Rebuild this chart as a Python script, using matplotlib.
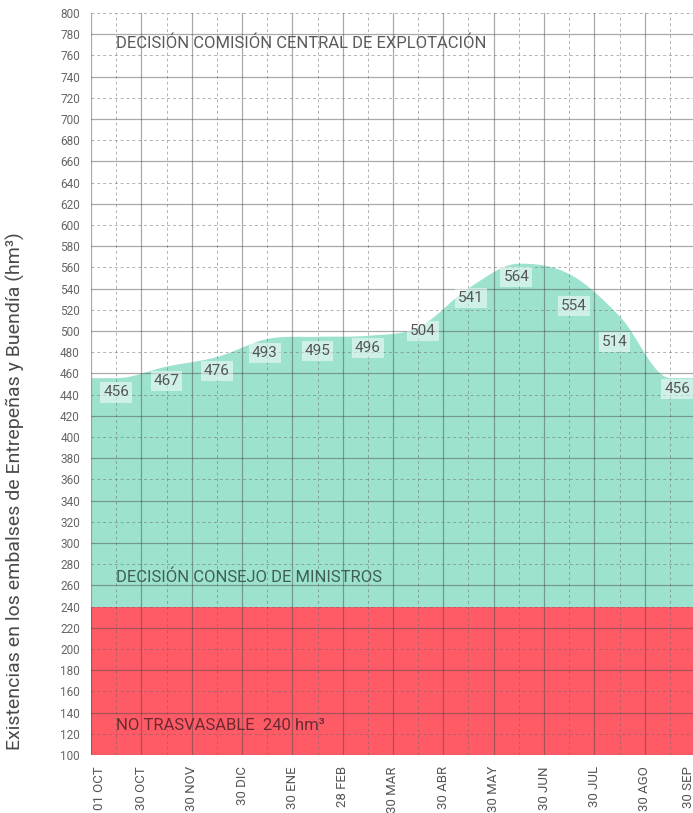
import numpy as np
import matplotlib
matplotlib.use("Agg")
import matplotlib.pyplot as plt
import matplotlib.transforms as mtransforms

plt.rcParams['font.family'] = ['Roboto', 'DejaVu Sans']

# data
months = ["01 OCT", "30 OCT", "30 NOV", "30 DIC", "30 ENE", "28 FEB", "30 MAR",
          "30 ABR", "30 MAY", "30 JUN", "30 JUL", "30 AGO", "30 SEP"]
volumes = [456, 467, 476, 493, 495, 496, 504, 541, 564, 554, 514, 456]
limit_no_trasvase = 240
y_min, y_max = 100, 800

# label nudges (data units), styling only
label_dx = [0.0, 0.0, 0.0, -0.05, 0.0, 0.0, 0.1, 0.05, -0.05, 0.1, -0.1, 0.15]
label_dy = [-14, -14, -14, -14, -14, -12, -4, -10, -13, -30, -24, -11]

teal = "#9de2cf"
red = "#ff5b67"
txt = "#555555"


def smooth(x, y, xq):
    # cubic Hermite drawing of the top edge, flat at local extremes
    m = np.zeros_like(y)
    for i in range(1, len(y) - 1):
        if (y[i] - y[i - 1]) * (y[i + 1] - y[i]) > 0:
            m[i] = (y[i + 1] - y[i - 1]) / (x[i + 1] - x[i - 1])
    out = np.empty_like(xq)
    for j, q in enumerate(xq):
        i = int(np.clip(np.searchsorted(x, q, side="right") - 1, 0, len(x) - 2))
        h = x[i + 1] - x[i]
        s = (q - x[i]) / h
        out[j] = ((2 * s ** 3 - 3 * s ** 2 + 1) * y[i] + (s ** 3 - 2 * s ** 2 + s) * h * m[i]
                  + (-2 * s ** 3 + 3 * s ** 2) * y[i + 1] + (s ** 3 - s ** 2) * h * m[i + 1])
    return out


px = np.concatenate([[0.0], np.arange(len(volumes)) + 0.5, [12.0]])
py = np.concatenate([[volumes[0]], volumes, [volumes[-1]]]).astype(float)
xs = np.linspace(0, 12, 600)
ys = smooth(px, py, xs)

fig = plt.figure(figsize=(6.93, 8.13), dpi=100)
ax = fig.add_axes([91 / 693, 58 / 813, 604 / 693, 742 / 813])

ax.fill_between(xs, limit_no_trasvase, ys, color=teal, lw=0, zorder=1)
ax.axhspan(y_min, limit_no_trasvase, color=red, lw=0, zorder=1)

# grid
for k in range(13):
    ax.axvline(k, color="#444444", alpha=0.45, lw=0.9, zorder=2)
    ax.axvline(k + 0.5, color="#666666", alpha=0.5, lw=0.7, ls=(0, (3, 3)), zorder=2)
for v in range(y_min, y_max + 1, 20):
    if (v - 20) % 40 == 0:
        ax.axhline(v, color="#444444", alpha=0.45, lw=0.9, zorder=2)
    else:
        ax.axhline(v, color="#666666", alpha=0.5, lw=0.7, ls=(0, (3, 3)), zorder=2)

# value labels
for i, v in enumerate(volumes):
    ax.text(i + 0.5 + label_dx[i], v + label_dy[i], str(v), ha="center", va="center",
            fontsize=11, color=txt, zorder=4,
            bbox=dict(boxstyle="square,pad=0.2", fc="white", ec="none", alpha=0.5))

ax.text(0.5, 771, "DECISIÓN COMISIÓN CENTRAL DE EXPLOTACIÓN", fontsize=12,
        color="#5a5a5a", va="center", ha="left", zorder=4)
ax.text(0.5, 268, "DECISIÓN CONSEJO DE MINISTROS", fontsize=12,
        color="#3f5f56", va="center", ha="left", zorder=4)
ax.text(0.5, 128, "NO TRASVASABLE  240 hm³", fontsize=12,
        color="#6a2a31", va="center", ha="left", zorder=4)

ax.set_xlim(0, 12)
ax.set_ylim(y_min, y_max)
ax.set_yticks(range(y_min, y_max + 1, 20))
ax.set_xticks(range(13))
ax.set_xticklabels(months, rotation=90, fontsize=9.5, color=txt)
ax.tick_params(axis="y", length=0, pad=8, labelsize=8.5, labelcolor="#666666")
ax.tick_params(axis="x", length=0, pad=8)
for s in ax.spines.values():
    s.set_visible(False)

# nudge first and last month labels inward
lbls = ax.get_xticklabels()
lbls[0].set_transform(lbls[0].get_transform()
                      + mtransforms.ScaledTranslation(8 / 100, 0, fig.dpi_scale_trans))
lbls[-1].set_transform(lbls[-1].get_transform()
                       + mtransforms.ScaledTranslation(-7 / 100, 0, fig.dpi_scale_trans))

ax.set_ylabel("Existencias en los embalses de Entrepeñas y Buendía (hm³)",
              fontsize=14, color="#4a4a4a")
ax.yaxis.set_label_coords(-0.11, 0.356)

fig.savefig("out.png", dpi=100)
